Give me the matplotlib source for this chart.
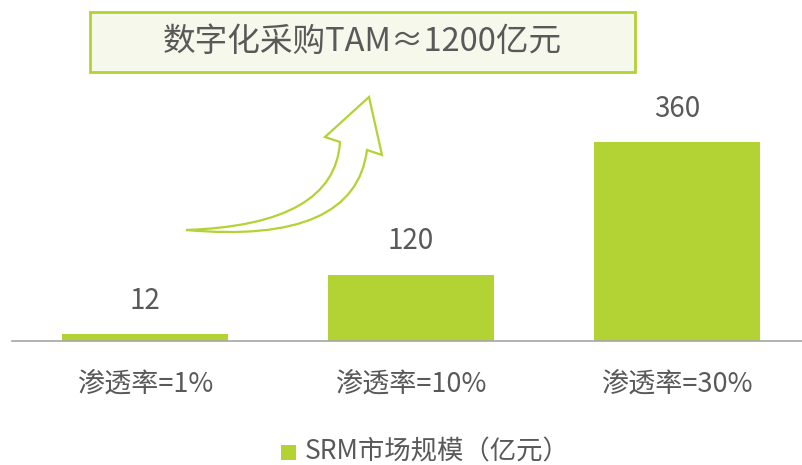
import matplotlib
matplotlib.use("Agg")
import matplotlib.pyplot as plt
from matplotlib.path import Path
from matplotlib.patches import PathPatch, Rectangle

plt.rcParams['font.family'] = ['Noto Sans CJK SC', 'DejaVu Sans']

# data
categories = ['渗透率=1%', '渗透率=10%', '渗透率=30%']
values = [12, 120, 360]
series_name = 'SRM市场规模（亿元）'
headline = '数字化采购TAM≈1200亿元'

green = '#B3D234'
text_gray = '#595959'
W, H = 802, 465

fig = plt.figure(figsize=(W / 100, H / 100), dpi=100)

# axes placed in pixel terms: baseline at y=341, left edge at x=12
left, right, base = 12, 802, 341
ax = fig.add_axes([left / W, (H - base) / H, (right - left) / W, base / H])
step = 266
ax.set_xlim(-0.5, (right - left) / step - 0.5)
ax.set_ylim(0, base / 199 * 360)

ax.bar(range(len(values)), values, width=0.624, color=green, zorder=2)
for i, v in enumerate(values):
    ax.annotate(str(v), (i, v), xytext=(0, 24), textcoords='offset points',
                ha='center', va='center', fontsize=20, color=text_gray)

for s in ['top', 'right', 'left']:
    ax.spines[s].set_visible(False)
ax.spines['bottom'].set_color('#A6A6A6')
ax.spines['bottom'].set_linewidth(1.2)
ax.set_yticks([])
ax.set_xticks(range(len(categories)))
ax.set_xticklabels(categories, fontsize=19.5, color=text_gray)
ax.tick_params(axis='x', length=0, pad=21)
ax.patch.set_alpha(0)


def px(x, y):
    return (x / W, 1 - y / H)


# headline box
x0, y0 = px(90, 72)
x1, y1 = px(635, 12)
fig.patches.append(Rectangle((x0, y0), x1 - x0, y1 - y0, transform=fig.transFigure,
                             facecolor='#F5F8EB', edgecolor=green, linewidth=2))
fig.text((x0 + x1) / 2, (y0 + y1) / 2, headline, ha='center', va='center',
         fontsize=23.5, color=text_gray)

# hollow curved arrow
pts = [(186, 230), (335, 225), (340, 142), (325, 137), (369, 97), (382, 155),
       (367, 150), (355, 245), (186, 230), (186, 230)]
codes = [Path.MOVETO, Path.CURVE3, Path.CURVE3, Path.LINETO, Path.LINETO,
         Path.LINETO, Path.LINETO, Path.CURVE3, Path.CURVE3, Path.CLOSEPOLY]
arrow = Path([px(*p) for p in pts], codes)
fig.patches.append(PathPatch(arrow, transform=fig.transFigure, facecolor='white',
                             edgecolor=green, linewidth=1.6))

# legend
lx, ly = px(281, 460)
fig.patches.append(Rectangle((lx, ly), 15 / W, 15 / H, transform=fig.transFigure,
                             facecolor=green, edgecolor='none'))
fig.text(305 / W, 1 - 452 / H, series_name, ha='left', va='center',
         fontsize=19, color=text_gray)

fig.savefig('out.png', dpi=100)
